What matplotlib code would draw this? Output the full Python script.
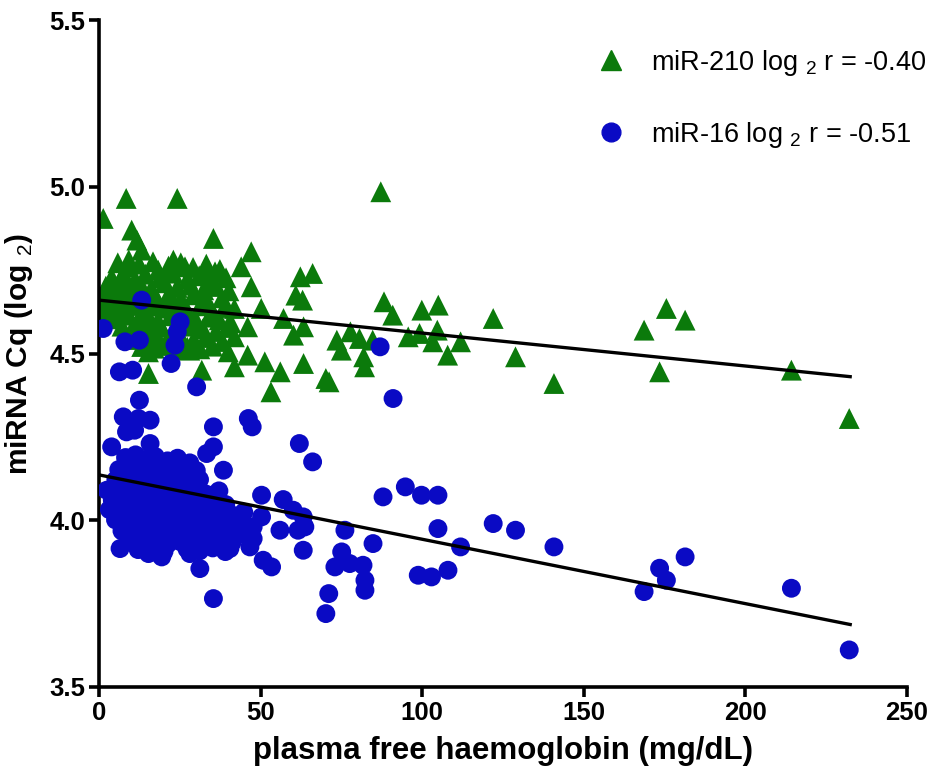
import matplotlib
matplotlib.use("Agg")
import matplotlib.pyplot as plt
from matplotlib import font_manager
from matplotlib.lines import Line2D

# ---------------- data ----------------
mir210_x = [1.3, 8.4, 24.2, 87.2, 35.4, 47.1, 10.1, 11.7, 13.2, 44.0, 47.1, 62.3, 66.1, 60.9, 63.0,
            50.2, 41.9, 57.1, 63.3, 46.0, 41.9, 60.2, 73.6, 77.8, 80.6, 75.0, 84.7, 81.9, 82.2, 46.0,
            51.3, 41.9, 56.1, 63.3, 70.2, 71.2, 53.2, 88.2, 90.9, 99.9, 105.0, 95.7, 99.2, 104.7, 103.3,
            111.9, 107.9, 122.0, 128.9, 140.8, 168.7, 175.6, 181.4, 173.5, 214.3, 232.2,
            15.3, 31.8, 18.3, 23.0, 26.6, 33.8, 35.9, 8.6, 7.5, 40.0, 28.1, 15.3,
            5.8, 9.2, 12.4, 16.7, 21.5, 25.3, 29.1, 33.2, 37.4,
            3.9, 7.8, 11.2, 14.3, 18.8, 22.9, 27.4, 31.0, 35.2, 39.3,
            2.1, 4.8, 8.3, 10.4, 13.1, 16.2, 20.4, 24.2, 28.3, 32.4, 36.1, 40.2,
            0.9, 4.2, 6.9, 9.4, 12.1, 15.4, 18.3, 21.2, 25.4, 29.2, 33.3, 38.1,
            0.4, 3.1, 5.9, 8.2, 11.3, 14.2, 17.1, 20.3, 23.4, 27.1, 31.3, 35.0, 38.8,
            2.2, 5.1, 9.1, 12.2, 15.3, 18.2, 22.1, 26.3, 30.2, 34.1, 37.2, 40.8,
            7.1, 10.2, 13.3, 16.1, 19.2, 24.1, 28.2, 32.1, 36.2, 39.7,
            9.3, 12.2, 15.1, 18.3, 21.2, 25.1, 29.3, 33.1, 38.2,
            13.2, 17.1, 20.3, 23.2, 27.3, 31.2, 35.1]
mir210_y = [4.905, 4.965, 4.965, 4.985, 4.845, 4.805, 4.87, 4.84, 4.81, 4.76, 4.70, 4.73, 4.74, 4.675, 4.66,
            4.635, 4.635, 4.605, 4.58, 4.58, 4.55, 4.555, 4.54, 4.565, 4.545, 4.51, 4.54, 4.49, 4.46, 4.495,
            4.475, 4.46, 4.445, 4.47, 4.425, 4.415, 4.385, 4.655, 4.615, 4.63, 4.645, 4.55, 4.56, 4.57, 4.535,
            4.535, 4.495, 4.605, 4.49, 4.41, 4.57, 4.635, 4.60, 4.445, 4.45, 4.305,
            4.44, 4.45, 4.75, 4.78, 4.76, 4.745, 4.745, 4.76, 4.74, 4.505, 4.51, 4.505,
            4.772, 4.781, 4.768, 4.775, 4.762, 4.772, 4.758, 4.768, 4.752,
            4.728, 4.735, 4.722, 4.738, 4.726, 4.741, 4.724, 4.733, 4.718, 4.727,
            4.702, 4.694, 4.708, 4.689, 4.703, 4.695, 4.712, 4.698, 4.705, 4.691, 4.701, 4.688,
            4.672, 4.665, 4.678, 4.662, 4.674, 4.668, 4.655, 4.671, 4.663, 4.676, 4.659, 4.667,
            4.641, 4.635, 4.648, 4.632, 4.644, 4.629, 4.642, 4.636, 4.648, 4.631, 4.643, 4.628, 4.638,
            4.612, 4.604, 4.615, 4.602, 4.611, 4.598, 4.613, 4.605, 4.596, 4.609, 4.601, 4.592,
            4.582, 4.573, 4.585, 4.571, 4.579, 4.568, 4.582, 4.574, 4.566, 4.578,
            4.551, 4.542, 4.556, 4.545, 4.538, 4.552, 4.541, 4.548, 4.536,
            4.521, 4.516, 4.524, 4.512, 4.519, 4.514, 4.522]

mir16_x = [13.2, 1.3, 25.1, 24.2, 23.5, 8.0, 12.5, 22.3, 6.3, 10.4, 30.2, 12.5, 7.5, 15.8, 10.6, 35.4,
           46.2, 47.4, 15.8, 3.9, 35.4, 33.3, 38.5, 62.0, 66.1, 2.4, 50.3, 57.0, 60.1, 63.2, 50.3, 47.7,
           47.7, 56.0, 61.6, 63.7, 63.2, 50.8, 53.4, 87.9, 94.8, 99.8, 104.9, 104.9, 111.9, 76.1, 75.1,
           73.0, 77.6, 81.7, 82.3, 82.3, 84.8, 71.1, 70.2, 98.8, 102.9, 108.0, 122.0, 128.9, 140.8,
           168.7, 173.5, 175.6, 181.4, 214.3, 232.2, 87.0, 91.0, 31.2, 35.4, 6.5, 15.3, 19.4, 28.1,
           46.7, 40.5, 12.2, 8.5, 11.0,
           8.2, 11.3, 14.1, 17.4, 21.2, 24.3, 28.1,
           6.1, 9.2, 12.3, 15.2, 19.1, 22.4, 26.2, 30.1,
           5.2, 8.1, 11.2, 14.3, 17.2, 20.1, 23.3, 27.2, 31.1,
           6.2, 9.1, 12.2, 15.1, 18.2, 21.3, 25.2, 29.1, 33.2, 37.1,
           4.1, 7.2, 10.1, 13.2, 16.1, 19.3, 23.1, 27.2, 31.1, 35.3, 39.2,
           3.2, 6.1, 9.3, 12.1, 15.2, 18.1, 21.2, 25.1, 29.2, 33.1, 37.2, 41.1, 44.8,
           5.1, 8.2, 11.1, 14.2, 17.3, 20.1, 24.2, 28.1, 32.2, 36.1, 40.2, 44.1,
           7.1, 10.2, 13.1, 16.2, 19.1, 22.2, 26.1, 30.2, 34.1, 38.2, 42.1, 46.0,
           10.1, 13.2, 17.1, 21.2, 25.1, 29.1, 33.2, 37.1, 41.2,
           12.1, 16.2, 20.1, 27.2, 31.1, 35.2, 39.1]
mir16_y = [4.66, 4.575, 4.595, 4.565, 4.525, 4.535, 4.54, 4.47, 4.445, 4.45, 4.40, 4.36, 4.31, 4.30, 4.285, 4.28,
           4.305, 4.28, 4.23, 4.22, 4.22, 4.20, 4.15, 4.23, 4.175, 4.09, 4.075, 4.062, 4.03, 4.01, 4.01, 3.98,
           3.945, 3.97, 3.97, 3.98, 3.91, 3.88, 3.86, 4.07, 4.10, 4.075, 4.075, 3.975, 3.92, 3.97, 3.905,
           3.86, 3.87, 3.865, 3.82, 3.79, 3.93, 3.78, 3.72, 3.835, 3.83, 3.85, 3.99, 3.97, 3.92,
           3.786, 3.856, 3.82, 3.89, 3.796, 3.611, 4.52, 4.365, 3.855, 3.765, 3.915, 3.90, 3.89, 3.90,
           3.92, 3.915, 4.305, 4.265, 4.27,
           4.188, 4.196, 4.182, 4.191, 4.178, 4.186, 4.172,
           4.152, 4.161, 4.147, 4.158, 4.143, 4.155, 4.141, 4.149,
           4.121, 4.128, 4.115, 4.124, 4.112, 4.126, 4.118, 4.109, 4.122,
           4.092, 4.085, 4.097, 4.083, 4.094, 4.081, 4.092, 4.086, 4.078, 4.088,
           4.061, 4.055, 4.066, 4.052, 4.063, 4.049, 4.058, 4.064, 4.051, 4.059, 4.047,
           4.032, 4.026, 4.035, 4.022, 4.031, 4.018, 4.029, 4.021, 4.033, 4.019, 4.027, 4.016, 4.024,
           4.001, 3.993, 4.004, 3.989, 3.998, 3.987, 4.002, 3.991, 3.997, 3.985, 3.996, 3.988,
           3.968, 3.962, 3.971, 3.958, 3.967, 3.955, 3.964, 3.957, 3.966, 3.953, 3.961, 3.952,
           3.938, 3.932, 3.941, 3.928, 3.936, 3.927, 3.935, 3.929, 3.934,
           3.912, 3.918, 3.906, 3.914, 3.908, 3.917, 3.906]

# regression lines (intercept, slope) and x-range
mir210_fit = [4.66, -0.000987]
mir16_fit = [4.136, -0.00193]
fit_x = [0, 233]

series_labels = ["miR-210 log $_{2}$ r = -0.40", "miR-16 log $_{2}$ r = -0.51"]
x_ticks = [0, 50, 100, 150, 200, 250]
y_ticks = [3.5, 4.0, 4.5, 5.0, 5.5]
x_label = "plasma free haemoglobin (mg/dL)"
y_label = "miRNA Cq (log $_{2}$)"

# ---------------- fonts ----------------
avail = {f.name for f in font_manager.fontManager.ttflist}
narrow = "Liberation Sans Narrow" if "Liberation Sans Narrow" in avail else "Liberation Sans"
plt.rcParams["font.family"] = ["Liberation Sans", "DejaVu Sans"]
plt.rcParams["mathtext.fontset"] = "custom"
plt.rcParams["mathtext.rm"] = "Liberation Sans"
plt.rcParams["mathtext.bf"] = "Liberation Sans:bold"

GREEN = "#0b7a0b"
BLUE = "#0a0ac4"

fig = plt.figure(figsize=(9.30, 7.71), dpi=100)
ax = fig.add_axes([0.1065, 0.109, 0.8685, 0.865])

ax.scatter(mir210_x, mir210_y, marker="^", s=225, color=GREEN, edgecolors="none", zorder=2)
ax.scatter(mir16_x, mir16_y, marker="o", s=185, color=BLUE, edgecolors="none", zorder=3)

for fit in (mir210_fit, mir16_fit):
    ys = [fit[0] + fit[1] * xv for xv in fit_x]
    ax.plot(fit_x, ys, color="black", lw=2.4, zorder=4, solid_capstyle="butt")

ax.set_xlim(0, 250)
ax.set_ylim(3.5, 5.5)
ax.set_xticks(x_ticks)
ax.set_yticks(y_ticks)
ax.set_xticklabels([str(t) for t in x_ticks], fontfamily=narrow, fontweight="bold", fontsize=18.5)
ax.set_yticklabels([f"{t:.1f}" for t in y_ticks], fontfamily=narrow, fontweight="bold", fontsize=18.5)
for s in ("top", "right"):
    ax.spines[s].set_visible(False)
for s in ("left", "bottom"):
    ax.spines[s].set_linewidth(2.6)
ax.tick_params(axis="both", direction="out", length=7, width=2.6, pad=3)

ax.set_xlabel(x_label, fontsize=22.5, fontweight="bold", labelpad=8)
ax.set_ylabel(y_label, fontsize=21.5, fontweight="bold", labelpad=10)

handles = [
    Line2D([], [], marker="^", linestyle="none", color=GREEN, markersize=15),
    Line2D([], [], marker="o", linestyle="none", color=BLUE, markersize=13.5),
]
ax.legend(handles, series_labels, loc="upper right", bbox_to_anchor=(1.055, 0.995), frameon=False,
          fontsize=19.5, labelspacing=1.55, handletextpad=0.5)

fig.savefig("out.png", dpi=100)
